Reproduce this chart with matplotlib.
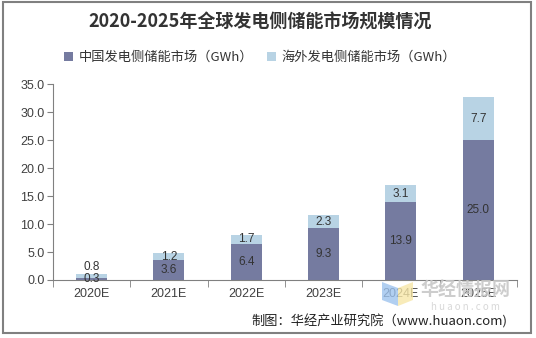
import numpy as np
import matplotlib.pyplot as plt
from matplotlib.patches import Rectangle, Polygon

plt.rcParams['font.family'] = ['Noto Sans CJK SC', 'DejaVu Sans']

years = ["2020E", "2021E", "2022E", "2023E", "2024E", "2025E"]
china = [0.3, 3.6, 6.4, 9.3, 13.9, 25.0]
overseas = [0.8, 1.2, 1.7, 2.3, 3.1, 7.7]
yticks = [0, 5, 10, 15, 20, 25, 30, 35]

c_china = "#757ba0"
c_over = "#b8d3e4"
txt = "#404040"

fig = plt.figure(figsize=(5.36, 3.38), dpi=100)
ax = fig.add_axes([0.0985, 0.1716, 0.866, 0.579])

x = np.arange(len(years))
ax.bar(x, china, width=0.4, color=c_china, label="中国发电侧储能市场（GWh）")
ax.bar(x, overseas, width=0.4, bottom=china, color=c_over, label="海外发电侧储能市场（GWh）")

for i in range(len(years)):
    y_cn = china[i] / 2
    y_ov = china[i] + overseas[i] / 2
    if i == 0:
        # 首年数值太小，标签上下错开
        y_cn, y_ov = 0.25, 2.3
    ax.text(x[i], y_cn, f"{china[i]:.1f}", ha="center", va="center",
            fontsize=8.5, color="#333333", family="Liberation Sans")
    ax.text(x[i], y_ov, f"{overseas[i]:.1f}", ha="center", va="center",
            fontsize=8.5, color="#333333", family="Liberation Sans")

ax.set_xlim(-0.5, len(years) - 0.5)
ax.set_ylim(0, 35)
ax.set_yticks(yticks)
ax.set_yticklabels([f"{v:.1f}" for v in yticks], family="Liberation Sans", fontsize=9, color=txt)
ax.set_xticks(x)
ax.set_xticklabels(years, family="Liberation Sans", fontsize=9, color=txt)
ax.set_xticks(np.arange(-0.5, len(years)), minor=True)
ax.tick_params(axis="x", which="major", length=0, pad=6)
ax.tick_params(axis="x", which="minor", length=5, direction="out", color="#808080")
ax.tick_params(axis="y", length=4, direction="out", color="#808080", pad=2)
for s in ["top", "right"]:
    ax.spines[s].set_visible(False)
for s in ["left", "bottom"]:
    ax.spines[s].set_color("#808080")
    ax.spines[s].set_linewidth(0.8)

fig.text(0.485, 0.935, "2020-2025年全球发电侧储能市场规模情况", ha="center", va="center",
         fontsize=13, fontweight="bold", color="#333333")
fig.legend(loc="center", bbox_to_anchor=(0.485, 0.83), ncol=2, frameon=False,
           fontsize=9.5, handlelength=0.7, handleheight=0.7, handletextpad=0.4,
           columnspacing=1.0, labelcolor="#333333")

# 水印
fig.patches.append(Polygon([[382, 56], [398, 50], [398, 32], [382, 38]], closed=True,
                           transform=None, facecolor="#9ec3ee", alpha=0.8, zorder=0))
fig.patches.append(Polygon([[398, 50], [413, 56], [413, 38], [398, 32]], closed=True,
                           transform=None, facecolor="#f7e7a8", alpha=0.8, zorder=0))
fig.text(0.868, 0.141, "华经情报网", ha="center", va="center", fontsize=13,
         fontweight="bold", color="#c8c8c8", alpha=0.9)
fig.text(0.868, 0.092, "h u a o n . c o m", ha="center", va="center", fontsize=7,
         color="#d8d8d8")

fig.text(0.946, 0.050, "制图：华经产业研究院（www.huaon.com)", ha="right", va="center",
         fontsize=9.5, color="#222222")

fig.patches.append(Rectangle((3, 5), 528, 331, transform=None, fill=False,
                             edgecolor="#808080", linewidth=1.5))

fig.savefig("out.png", dpi=100)
